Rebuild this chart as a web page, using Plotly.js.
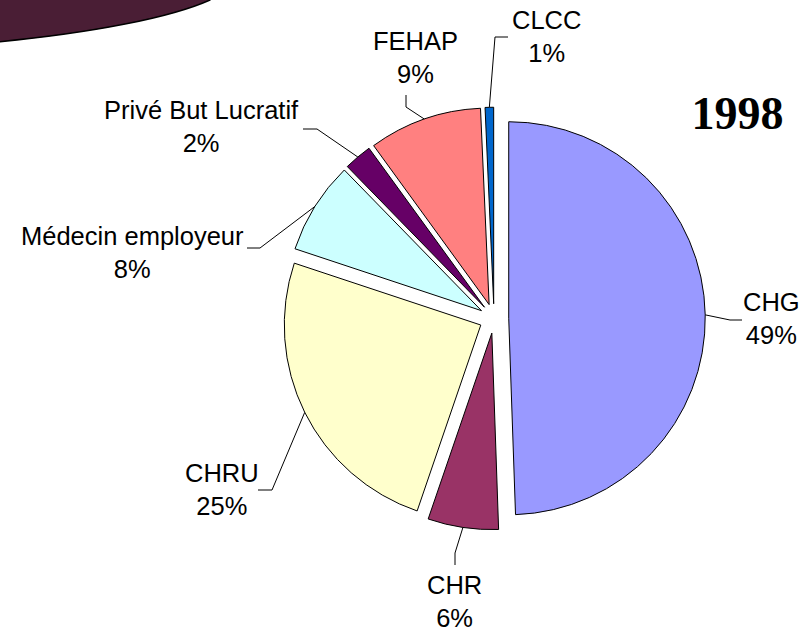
<!DOCTYPE html>
<html><head><meta charset="utf-8">
<script src="https://cdn.plot.ly/plotly-3.0.1.min.js"></script>
<style>html,body{margin:0;padding:0;background:#fff}#chart{width:812px;height:634px}</style>
</head><body><div id="chart"></div>
<script>
// ---- data ----
const labels = ['CHG', 'CHR', 'CHRU', 'Médecin employeur', 'Privé But Lucratif', 'FEHAP', 'CLCC'];
const values = [49.45, 5.8, 24.85, 7.6, 2.3, 9.3, 0.7];
const yearLabel = '1998';

// ---- styles / layout ----
const colors = ['#9999FF', '#993366', '#FFFFCC', '#CCFFFF', '#660066', '#FF8080', '#0066CC'];
const pulls = [0.075, 0.075, 0.075, 0.075, 0.075, 0.075, 0.075];
const W = 812, H = 634;
const pieDomain = {x: [0.32337, 0.89337], y: [0.16443, 0.83084]};
// label centres (px) and leader-line elbow/end points (px)
const labelPos = [[771, 318], [454, 601], [222, 489], [132, 253], [201, 127], [415, 58], [546, 37]];
const leaderPts = [
  [[730, 320], [742, 320]],
  [[455, 553], [455, 565]],
  [[272, 490], [258, 490]],
  [[260, 248], [247, 248]],
  [[317, 129], [303, 129]],
  [[406, 107], [406, 95]],
  [[495, 37], [508, 37]]
];
const labelFont = {family: 'Liberation Sans, Arial, sans-serif', size: 25.5, color: '#000'};

function px(x) { return x / W; }
function py(y) { return 1 - y / H; }

const total = values.reduce((a, b) => a + b, 0);
const pct = values.map(v => Math.round(v / total * 100));

const banner = {
  type: 'path', xref: 'paper', yref: 'paper', layer: 'above',
  path: 'M -0.03,1.03 L -0.03,' + py(44) + ' L 0,' + py(41.7) +
        ' C ' + px(90) + ',' + py(33) + ' ' + px(170) + ',' + py(18) + ' ' + px(210) + ',' + py(0) +
        ' L ' + px(222) + ',1.03 Z',
  fillcolor: '#4A1E35', line: {color: '#000', width: 1.5}
};

function overlays(R, CX, CY) {
  const shapes = [banner];
  const annotations = [];
  let cum = 0;
  values.forEach((v, i) => {
    const a0 = cum / total * 2 * Math.PI; cum += v;
    const a1 = cum / total * 2 * Math.PI;
    const mid = (a0 + a1) / 2;
    const rr = R * (1 + pulls[i]);
    const ax = CX + rr * Math.sin(mid), ay = CY - rr * Math.cos(mid);
    const e = leaderPts[i];
    shapes.push({
      type: 'path', xref: 'paper', yref: 'paper', layer: 'above',
      path: 'M ' + px(ax) + ',' + py(ay) + ' L ' + px(e[0][0]) + ',' + py(e[0][1]) + ' L ' + px(e[1][0]) + ',' + py(e[1][1]),
      line: {color: '#000', width: 1}
    });
    annotations.push({
      xref: 'paper', yref: 'paper', x: px(labelPos[i][0]), y: py(labelPos[i][1]),
      xanchor: 'center', yanchor: 'middle', showarrow: false, align: 'center',
      text: labels[i] + '<br>' + pct[i] + '%', font: labelFont
    });
  });
  return {shapes, annotations};
}

const boxW = W * (pieDomain.x[1] - pieDomain.x[0]);
const boxH = H * (pieDomain.y[1] - pieDomain.y[0]);
let R = Math.min(boxW, boxH) / (2 + 2 * Math.max(...pulls));
let CX = W * (pieDomain.x[0] + pieDomain.x[1]) / 2;
let CY = H * (1 - (pieDomain.y[0] + pieDomain.y[1]) / 2);

const trace = {
  type: 'pie', labels: labels, values: values, sort: false, direction: 'clockwise', rotation: 0,
  pull: pulls, domain: pieDomain, textinfo: 'none', hoverinfo: 'none',
  marker: {colors: colors, line: {color: '#000', width: 1}}
};
const ov = overlays(R, CX, CY);
const layout = {
  width: W, height: H, margin: {l: 0, r: 0, t: 0, b: 0},
  paper_bgcolor: '#fff', plot_bgcolor: '#fff', showlegend: false,
  title: {text: yearLabel, x: px(737.5), y: py(113), xanchor: 'center', yanchor: 'middle', xref: 'paper', yref: 'paper',
          font: {family: 'Liberation Serif, Times New Roman, serif', size: 46, weight: 'bold', color: '#000'}},
  shapes: ov.shapes, annotations: ov.annotations
};
const gd = document.getElementById('chart');
Plotly.newPlot(gd, [trace], layout, {staticPlot: true}).then(() => {
  try {
    const cd0 = gd.calcdata[0][0];
    if (cd0 && isFinite(cd0.r) && isFinite(cd0.cx) && isFinite(cd0.cy) &&
        (Math.abs(cd0.r - R) > 0.5 || Math.abs(cd0.cx - CX) > 0.5 || Math.abs(cd0.cy - CY) > 0.5)) {
      const o2 = overlays(cd0.r, cd0.cx, cd0.cy);
      Plotly.relayout(gd, {shapes: o2.shapes, annotations: o2.annotations});
    }
  } catch (err) {}
});
</script>
</body></html>
